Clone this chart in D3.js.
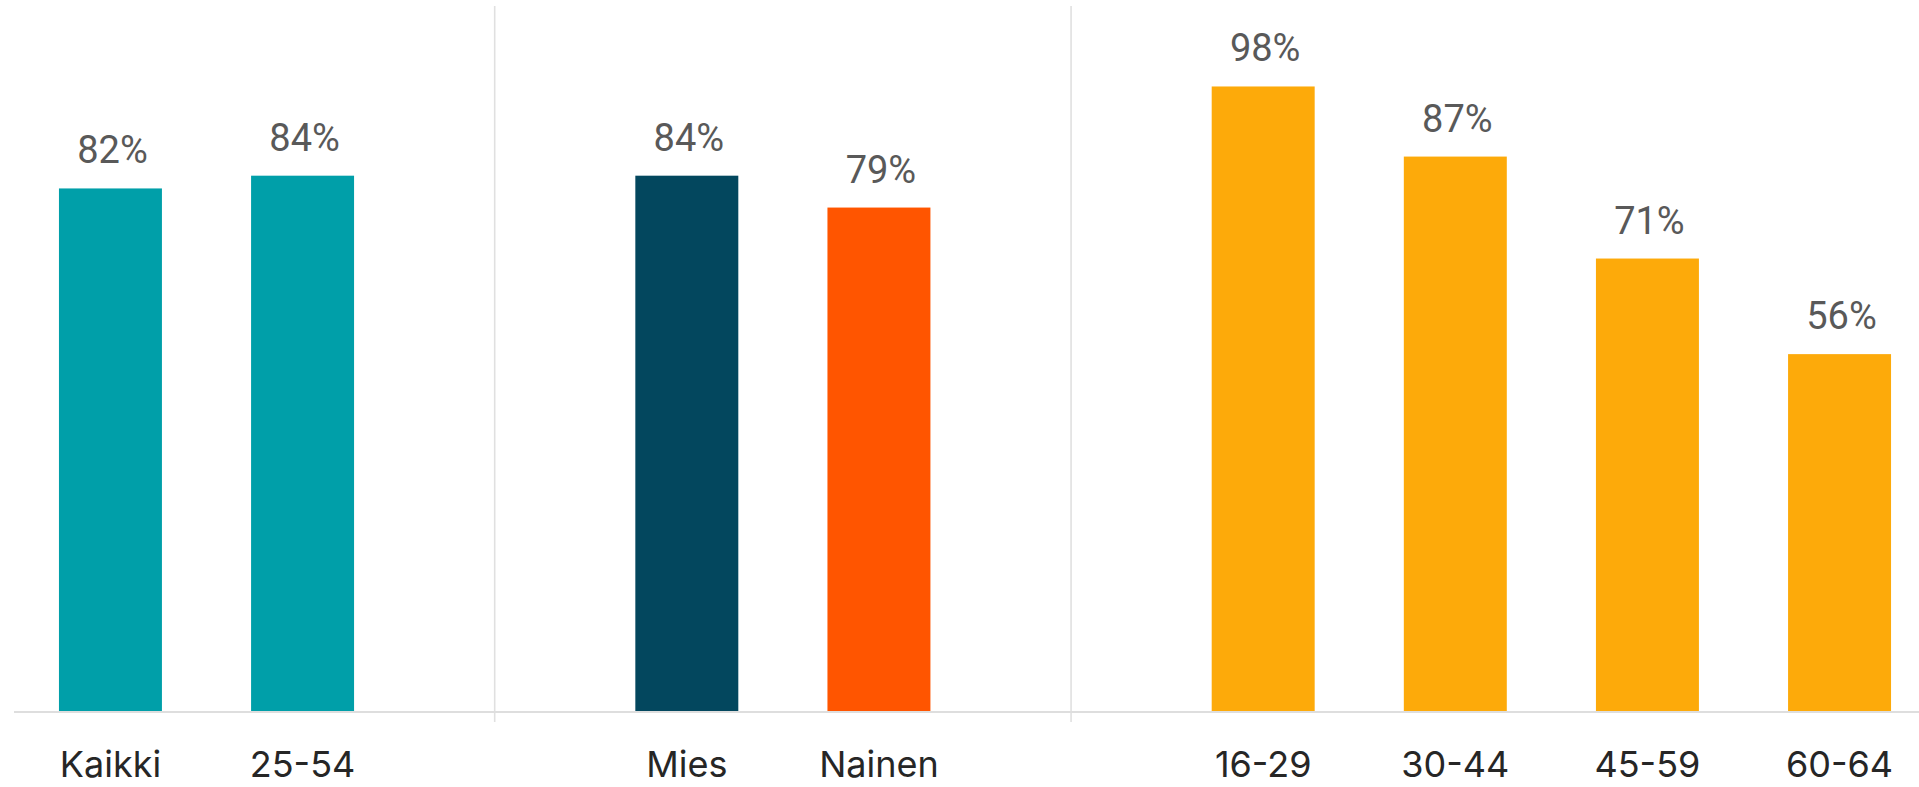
<!DOCTYPE html>
<html>
<head>
<meta charset="utf-8">
<script src="https://cdn.jsdelivr.net/npm/d3@7"></script>
<style>
  html, body { margin: 0; padding: 0; background: #ffffff; overflow: hidden; }
  svg { display: block; }
</style>
</head>
<body>
<svg id="chart" width="1919" height="787"></svg>
<script>
// ---- data ----
const groupTotal = ["Kaikki", "25-54"];
const valuesTotal = [82, 84];
const groupGender = ["Mies", "Nainen"];
const valuesGender = [84, 79];
const groupAge = ["16-29", "30-44", "45-59", "60-64"];
const valuesAge = [98, 87, 71, 56];

const colorsTotal = ["#009fa9", "#009fa9"];
const colorsGender = ["#03475e", "#ff5500"];
const colorsAge = ["#fdaa0a", "#fdaa0a", "#fdaa0a", "#fdaa0a"];

// build rows and slot domain (with separator slots between groups)
const groups = [
  { cats: groupTotal, vals: valuesTotal, cols: colorsTotal },
  { cats: groupGender, vals: valuesGender, cols: colorsGender },
  { cats: groupAge, vals: valuesAge, cols: colorsAge }
];
const rows = [];
const slots = [];
const seps = [];
groups.forEach((g, gi) => {
  if (gi > 0) { const s = "__sep" + gi; slots.push(s); seps.push(s); }
  g.cats.forEach((c, i) => { slots.push(c); rows.push({ cat: c, value: g.vals[i], color: g.cols[i] }); });
});

const svg = d3.select("#chart");
const baseY = 711;

const x = d3.scaleBand()
  .domain(slots)
  .range([14, 1936])
  .paddingInner(0.464)
  .paddingOuter(0.234);

const y = d3.scaleLinear().domain([0, 110]).range([baseY, 10]);

// separators
svg.selectAll("line.sep").data(seps).join("line")
  .attr("class", "sep")
  .attr("x1", d => x(d) + x.bandwidth() / 2)
  .attr("x2", d => x(d) + x.bandwidth() / 2)
  .attr("y1", 6)
  .attr("y2", 722)
  .attr("stroke", "#e0e0e0")
  .attr("stroke-width", 1.6);

// bars
svg.selectAll("rect.bar").data(rows).join("rect")
  .attr("class", "bar")
  .attr("x", d => x(d.cat))
  .attr("width", x.bandwidth())
  .attr("y", d => y(d.value))
  .attr("height", d => y(0) - y(d.value))
  .attr("fill", d => d.color);

// baseline
svg.append("line")
  .attr("x1", 14).attr("x2", 1919)
  .attr("y1", baseY + 1).attr("y2", baseY + 1)
  .attr("stroke", "#dedede")
  .attr("stroke-width", 2);

// value labels
svg.selectAll("text.val").data(rows).join("text")
  .attr("class", "val")
  .attr("x", d => x(d.cat) + x.bandwidth() / 2 + 2)
  .attr("y", d => y(d.value) - 25)
  .attr("text-anchor", "middle")
  .attr("font-family", "Roboto, sans-serif")
  .attr("font-size", 38)
  .attr("fill", "#595959")
  .text(d => d.value + "%");

// category labels
svg.selectAll("text.cat").data(rows).join("text")
  .attr("class", "cat")
  .attr("x", d => x(d.cat) + x.bandwidth() / 2)
  .attr("y", 777)
  .attr("text-anchor", "middle")
  .attr("font-family", "Inter, 'Open Sans', sans-serif")
  .attr("font-size", 36)
  .attr("fill", "#262626")
  .text(d => d.cat);
</script>
</body>
</html>
